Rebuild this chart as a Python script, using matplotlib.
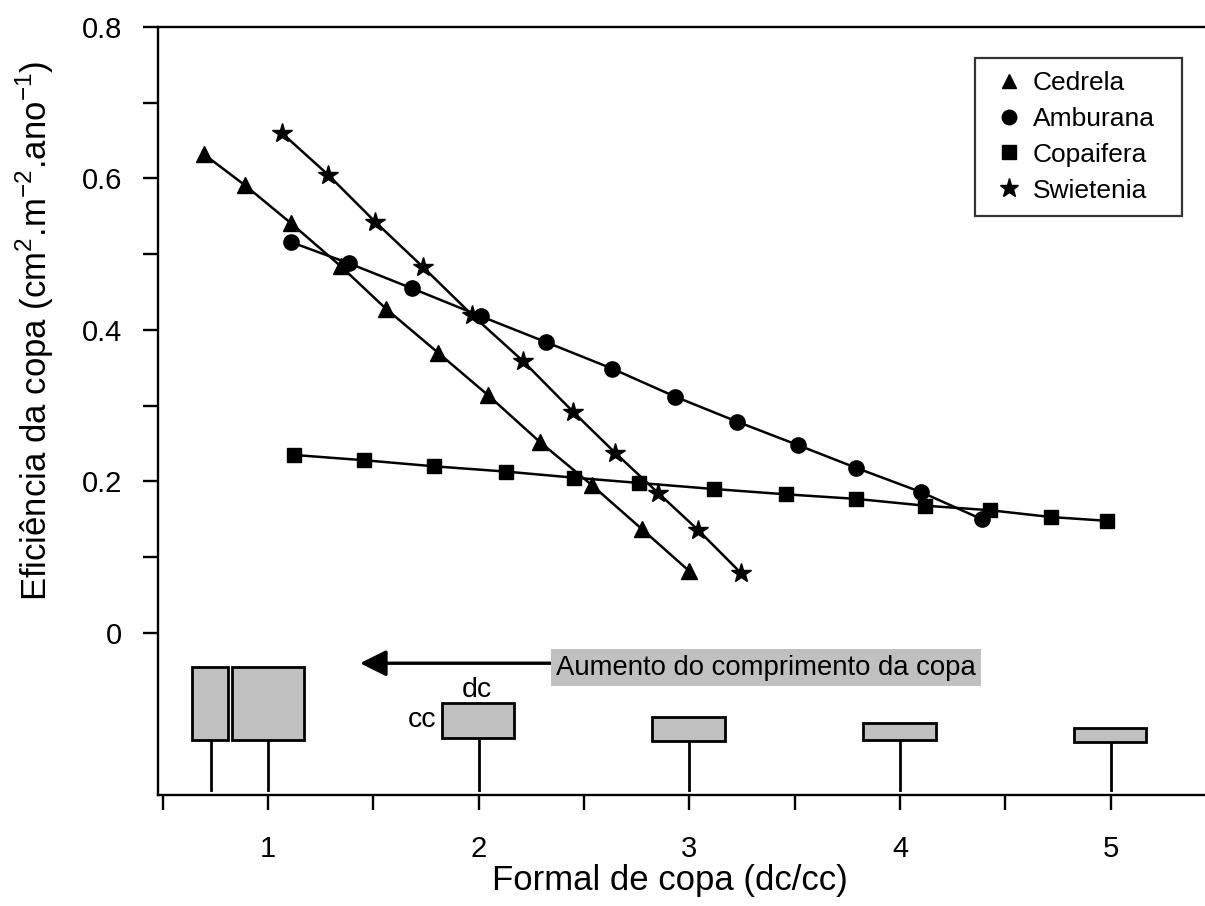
import matplotlib
matplotlib.use("Agg")
import matplotlib.pyplot as plt
from matplotlib.lines import Line2D
from matplotlib.patches import Rectangle
from matplotlib.ticker import FixedLocator

plt.rcParams["font.family"] = ["Liberation Sans", "DejaVu Sans"]
plt.rcParams["mathtext.fontset"] = "custom"
plt.rcParams["mathtext.rm"] = "Liberation Sans"

# valores
cedrela_x = [0.696, 0.891, 1.109, 1.346, 1.560, 1.807, 2.044, 2.291, 2.538, 2.775, 2.998]
cedrela_y = [0.632, 0.591, 0.541, 0.484, 0.428, 0.370, 0.314, 0.252, 0.195, 0.137, 0.082]

amburana_x = [1.109, 1.384, 1.683, 2.011, 2.319, 2.633, 2.932, 3.226, 3.515, 3.791, 4.099, 4.389]
amburana_y = [0.516, 0.488, 0.455, 0.418, 0.384, 0.349, 0.312, 0.279, 0.248, 0.218, 0.186, 0.150]

copaifera_x = [1.123, 1.456, 1.788, 2.130, 2.452, 2.761, 3.117, 3.458, 3.791, 4.118, 4.427, 4.716, 4.982]
copaifera_y = [0.235, 0.228, 0.220, 0.213, 0.205, 0.198, 0.190, 0.183, 0.177, 0.168, 0.162, 0.153, 0.148]

swietenia_x = [1.066, 1.285, 1.508, 1.736, 1.968, 2.210, 2.448, 2.647, 2.851, 3.041, 3.245]
swietenia_y = [0.660, 0.605, 0.543, 0.483, 0.420, 0.359, 0.292, 0.238, 0.185, 0.136, 0.079]

species = ["Cedrela", "Amburana", "Copaifera", "Swietenia"]
markers = ["^", "o", "s", "*"]
msizes = [11, 11, 10, 15]

# desenho esquematico das copas (dc x cc)
crown_stem = [0.729, 1.0, 2.0, 3.0, 4.0, 5.0]
crown_left = [0.639, 0.829, 1.826, 2.823, 3.824, 4.825]
crown_right = [0.810, 1.171, 2.168, 3.169, 4.170, 5.167]
crown_top = [-0.045, -0.045, -0.092, -0.111, -0.119, -0.125]
crown_bottom = [-0.141, -0.141, -0.139, -0.143, -0.141, -0.144]
stem_end = -0.207

fig = plt.figure(figsize=(12.05, 9.06), dpi=100)
ax = fig.add_axes([0.1311, 0.1225, 0.8689, 0.8477])

series = [(cedrela_x, cedrela_y), (amburana_x, amburana_y),
          (copaifera_x, copaifera_y), (swietenia_x, swietenia_y)]
for (xs, ys), m, ms in zip(series, markers, msizes):
    ax.plot(xs, ys, color="black", lw=1.8, marker=m, markersize=ms,
            markerfacecolor="black", markeredgecolor="black")

for i in range(len(crown_stem)):
    ax.add_patch(Rectangle((crown_left[i], crown_bottom[i]),
                           crown_right[i] - crown_left[i],
                           crown_top[i] - crown_bottom[i],
                           facecolor="#c0c0c0", edgecolor="black", lw=2, zorder=3))
    ax.plot([crown_stem[i], crown_stem[i]], [crown_bottom[i], stem_end],
            color="black", lw=2, zorder=2)

ax.text(1.992, -0.075, "dc", fontsize=20.5, ha="center", va="center")
ax.text(1.80, -0.115, "cc", fontsize=20.5, ha="right", va="center")

ax.annotate("", xy=(1.437, -0.040), xytext=(2.36, -0.040),
            arrowprops=dict(arrowstyle="-|>,head_length=0.8,head_width=0.4",
                            mutation_scale=20, lw=2.4, color="black",
                            shrinkA=0, shrinkB=0))
ax.text(3.364, -0.046, "Aumento do comprimento da copa", fontsize=19.8,
        ha="center", va="center",
        bbox=dict(facecolor="#c0c0c0", edgecolor="none", pad=4))

ax.set_xlim(0.478, 5.447)
ax.set_ylim(-0.214, 0.8)

ax.spines["right"].set_visible(False)
for s in ["left", "bottom", "top"]:
    ax.spines[s].set_linewidth(1.7)

ax.xaxis.set_major_locator(FixedLocator([1, 2, 3, 4, 5]))
ax.xaxis.set_minor_locator(FixedLocator([0.5, 1.5, 2.5, 3.5, 4.5]))
ax.yaxis.set_major_locator(FixedLocator([0, 0.2, 0.4, 0.6, 0.8]))
ax.yaxis.set_minor_locator(FixedLocator([0.1, 0.3, 0.5, 0.7]))
ax.set_yticklabels(["0", "0.2", "0.4", "0.6", "0.8"])
ax.tick_params(which="both", direction="out", length=11, width=1.7,
               top=False, right=False)
ax.tick_params(axis="y", labelsize=21, pad=15)
ax.tick_params(axis="x", labelsize=21, pad=18)

ax.set_xlabel("Formal de copa (dc/cc)", fontsize=25)
ax.xaxis.label.set_va("center")
ax.xaxis.set_label_coords(0.489, -0.111)
ax.set_ylabel(r"Eficiência da copa (cm$^{2}$.m$^{-2}$.ano$^{-1}$)", fontsize=25)
ax.yaxis.label.set_va("center")
ax.yaxis.set_label_coords(-0.1175, 0.605)

handles = [Line2D([], [], ls="none", marker=m, markersize=ms * 0.95,
                  color="black") for m, ms in zip(markers, msizes)]
leg = ax.legend(handles, species, loc="upper left",
                bbox_to_anchor=(0.7803, 0.759, 0.1977, 0.201), mode="expand",
                borderaxespad=0, fontsize=19, frameon=True, fancybox=False,
                handlelength=1.6, handletextpad=0.1, labelspacing=0.45,
                borderpad=0.5)
leg.get_frame().set_edgecolor("black")
leg.get_frame().set_linewidth(1.6)

fig.savefig("out.png", dpi=100)
